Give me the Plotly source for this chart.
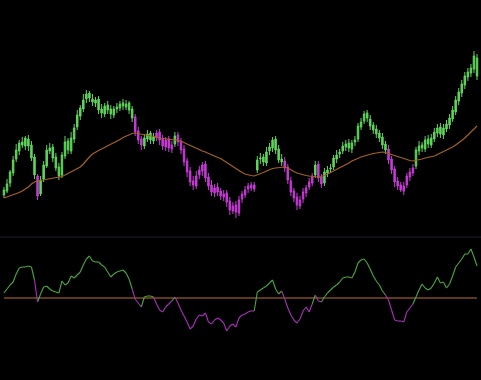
import plotly.graph_objects as go

# ---- data (price units) ----
opens = [45,49,57,67,81,89,98,94,101,95,83,64,46,61,74,89,93,83,73,65,
         84,99,89,101,113,124,131,141,147,141,137,141,131,126,135,131,125,131,132,137,
         133,137,131,123,109,101,94,101,107,99,102,108,101,93,101,91,96,105,99,91,
         79,69,59,54,65,69,76,63,55,47,53,49,43,47,39,29,35,27,41,45,
         51,55,51,70,81,83,77,89,92,101,91,81,79,73,59,49,43,34,41,47,
         53,57,65,76,63,57,67,71,73,81,86,89,93,97,91,98,101,113,119,127,
         121,115,111,107,103,96,91,81,71,59,55,49,55,63,67,74,89,95,91,101,
         95,101,107,113,105,111,115,121,128,139,147,155,163,167,171,182]
closes = [50,56,68,80,90,97,95,102,94,82,65,44,60,75,90,92,82,72,64,85,
          98,90,102,112,125,132,140,146,142,138,140,130,127,134,130,126,131,133,136,134,
          136,130,122,108,100,95,102,106,100,103,107,100,94,100,92,95,104,98,90,78,
          68,58,55,64,70,75,62,54,48,52,48,44,46,38,30,34,28,40,46,50,
          54,52,55,80,82,78,88,93,100,90,80,78,72,60,48,42,35,40,48,52,
          58,64,75,62,56,68,70,72,82,85,88,94,96,92,97,100,114,118,126,122,
          114,110,106,102,95,90,80,70,58,54,50,54,64,68,72,90,94,92,100,96,
          102,108,112,106,112,116,122,130,140,148,156,164,168,172,184,164]
highs = [53,61,70,84,96,100,103,104,105,99,86,66,64,79,95,97,96,87,77,88,
         104,102,108,116,130,135,146,150,149,146,143,144,136,137,139,135,134,137,139,141,
         140,139,134,126,113,104,106,110,109,107,110,111,105,103,104,99,108,108,102,95,
         82,73,64,69,74,78,79,67,60,56,57,52,50,50,43,38,39,44,49,54,
         57,58,58,84,87,86,93,97,103,104,95,86,83,76,63,52,47,44,52,55,
         62,67,79,79,66,72,74,76,85,90,91,98,100,101,100,104,117,122,129,130,
         125,118,115,110,107,99,95,84,74,63,58,58,67,72,76,93,99,98,104,105,
         106,112,116,117,116,120,126,134,144,152,160,168,172,176,189,186]
lows = [42,47,53,64,78,85,92,90,89,79,61,40,44,58,72,86,78,69,60,62,
        81,86,86,97,110,120,128,137,138,134,133,126,122,123,126,121,122,127,129,130,
        130,126,118,104,96,90,91,98,96,96,99,95,90,89,88,87,93,94,86,74,
        63,54,50,51,61,64,58,50,44,43,44,40,39,33,25,26,22,24,37,42,
        47,49,48,67,76,74,74,85,88,86,77,74,68,56,44,38,30,31,37,43,
        50,54,62,58,52,54,63,67,70,77,82,86,89,88,87,94,98,110,116,118,
        110,106,102,98,91,86,76,66,53,50,48,45,52,59,64,71,85,88,88,92,
        92,98,103,102,101,108,111,118,125,135,143,151,159,163,167,160]
moving_avg = [42,43,44,45,46,47.5,49,51,53,56,58,59,59.5,60,60.5,61,61.5,62,63,63.5,
              65,66.5,68,70,71.5,73,76,80,83,86,88,89.5,91,92.5,94,95.5,97,99,100.5,102.5,
              104,105.5,106.5,107,106.5,106,105.5,105,104.5,104,103,102,101.5,101,101,100.5,100,100,99,97.5,
              96,94.5,93,92,90.5,89,88,86.5,85,84,82.5,81.5,79.5,77.5,75.5,73,71,69,67.5,66,
              65,64.5,64,65,66,67.5,69,70.5,71.5,72,72.5,73,73,72,70,68.5,67,66,65,64.5,
              64,63.5,63,63,63.5,64.5,66,67.5,69,70.5,72,74,75.5,77,79,80.5,82,83,84,85,
              86,86.5,87,87.5,88,87.5,86.5,85,84,83,82,81,80,79.5,79,79.5,80,81,82,82.5,
              83,84,85.5,87,88,89.5,91,93,95,97,99.5,102,105,108,111,114]
oscillator = [5,9,13,16,24,30,31,31,32,31,18,-4,4,11,12,9,7,6,5,17,
              13,15,22,20,23,26,33,39,42,37,36,36,33,31,26,21,24,26,27,28,
              25,19,9,-1,-5,-9,1,2,2,1,-6,-12,-14,-9,-6,-3,1,-5,-12,-18,
              -24,-31,-28,-21,-17,-18,-15,-24,-26,-22,-20,-22,-25,-33,-28,-26,-29,-20,-17,-16,
              -14,-13,-13,6,8,10,12,15,18,9,4,7,-1,-10,-17,-22,-25,-21,-13,-9,
              -14,-6,3,-3,-4,1,5,8,11,13,16,20,21,21,20,26,35,38,39,35,
              29,22,17,13,7,3,-2,-12,-22,-23,-23,-24,-14,-10,-6,1,8,14,10,8,
              10,15,21,15,16,10,14,22,31,35,39,44,44,49,41,32]

N = len(closes)
idx = list(range(N))

GREEN = "#5ed65a"
MAGENTA = "#c83ad8"
OSC_GREEN = "#4aa83f"
OSC_MAGENTA = "#a830ba"
MA_COLOR = "#a5621f"
ZERO_COLOR = "#7f4c1c"

up = [i for i in idx if oscillator[i] >= 0]
dn = [i for i in idx if oscillator[i] < 0]

fig = go.Figure()

def candle(sel, color):
    return go.Candlestick(
        x=sel,
        open=[opens[i] for i in sel],
        high=[highs[i] for i in sel],
        low=[lows[i] for i in sel],
        close=[closes[i] for i in sel],
        increasing=dict(line=dict(color=color, width=1), fillcolor=color),
        decreasing=dict(line=dict(color=color, width=1), fillcolor=color),
        whiskerwidth=0,
        showlegend=False,
        hoverinfo="skip",
        xaxis="x", yaxis="y",
    )

fig.add_trace(candle(up, GREEN))
fig.add_trace(candle(dn, MAGENTA))

fig.add_trace(go.Scatter(x=idx, y=moving_avg, mode="lines",
                         line=dict(color=MA_COLOR, width=1.2),
                         showlegend=False, hoverinfo="skip",
                         xaxis="x", yaxis="y"))

# oscillator: segments coloured by sign
gx, gy, mx, my = [], [], [], []
for i in range(N - 1):
    if oscillator[i + 1] >= 0:
        gx += [i, i + 1, None]; gy += [oscillator[i], oscillator[i + 1], None]
    else:
        mx += [i, i + 1, None]; my += [oscillator[i], oscillator[i + 1], None]

fig.add_trace(go.Scatter(x=idx, y=[0] * N, mode="lines",
                         line=dict(color=ZERO_COLOR, width=1.5),
                         showlegend=False, hoverinfo="skip",
                         xaxis="x2", yaxis="y2"))
fig.add_trace(go.Scatter(x=gx, y=gy, mode="lines",
                         line=dict(color=OSC_GREEN, width=1.1),
                         showlegend=False, hoverinfo="skip",
                         xaxis="x2", yaxis="y2"))
fig.add_trace(go.Scatter(x=mx, y=my, mode="lines",
                         line=dict(color=OSC_MAGENTA, width=1.1),
                         showlegend=False, hoverinfo="skip",
                         xaxis="x2", yaxis="y2"))

axis_off = dict(showgrid=False, zeroline=False, showticklabels=False,
                ticks="", showline=False)

fig.update_layout(
    width=481, height=380,
    margin=dict(l=0, r=0, t=0, b=0),
    paper_bgcolor="black", plot_bgcolor="black",
    showlegend=False,
    xaxis=dict(range=[-1.3, N + 0.3], domain=[0, 1], anchor="y",
               rangeslider=dict(visible=False), **axis_off),
    xaxis2=dict(range=[-1.3, N + 0.3], domain=[0, 1], anchor="y2",
                matches="x", **axis_off),
    yaxis=dict(range=[5, 240], domain=[145 / 380, 1], **axis_off),
    yaxis2=dict(range=[-82, 61], domain=[0, 143 / 380], **axis_off),
    shapes=[dict(type="line", xref="paper", yref="paper",
                 x0=0, x1=1, y0=143 / 380, y1=143 / 380,
                 line=dict(color="#1d1d2b", width=1))],
)

fig.write_html("out.html", config={"displayModeBar": False})
